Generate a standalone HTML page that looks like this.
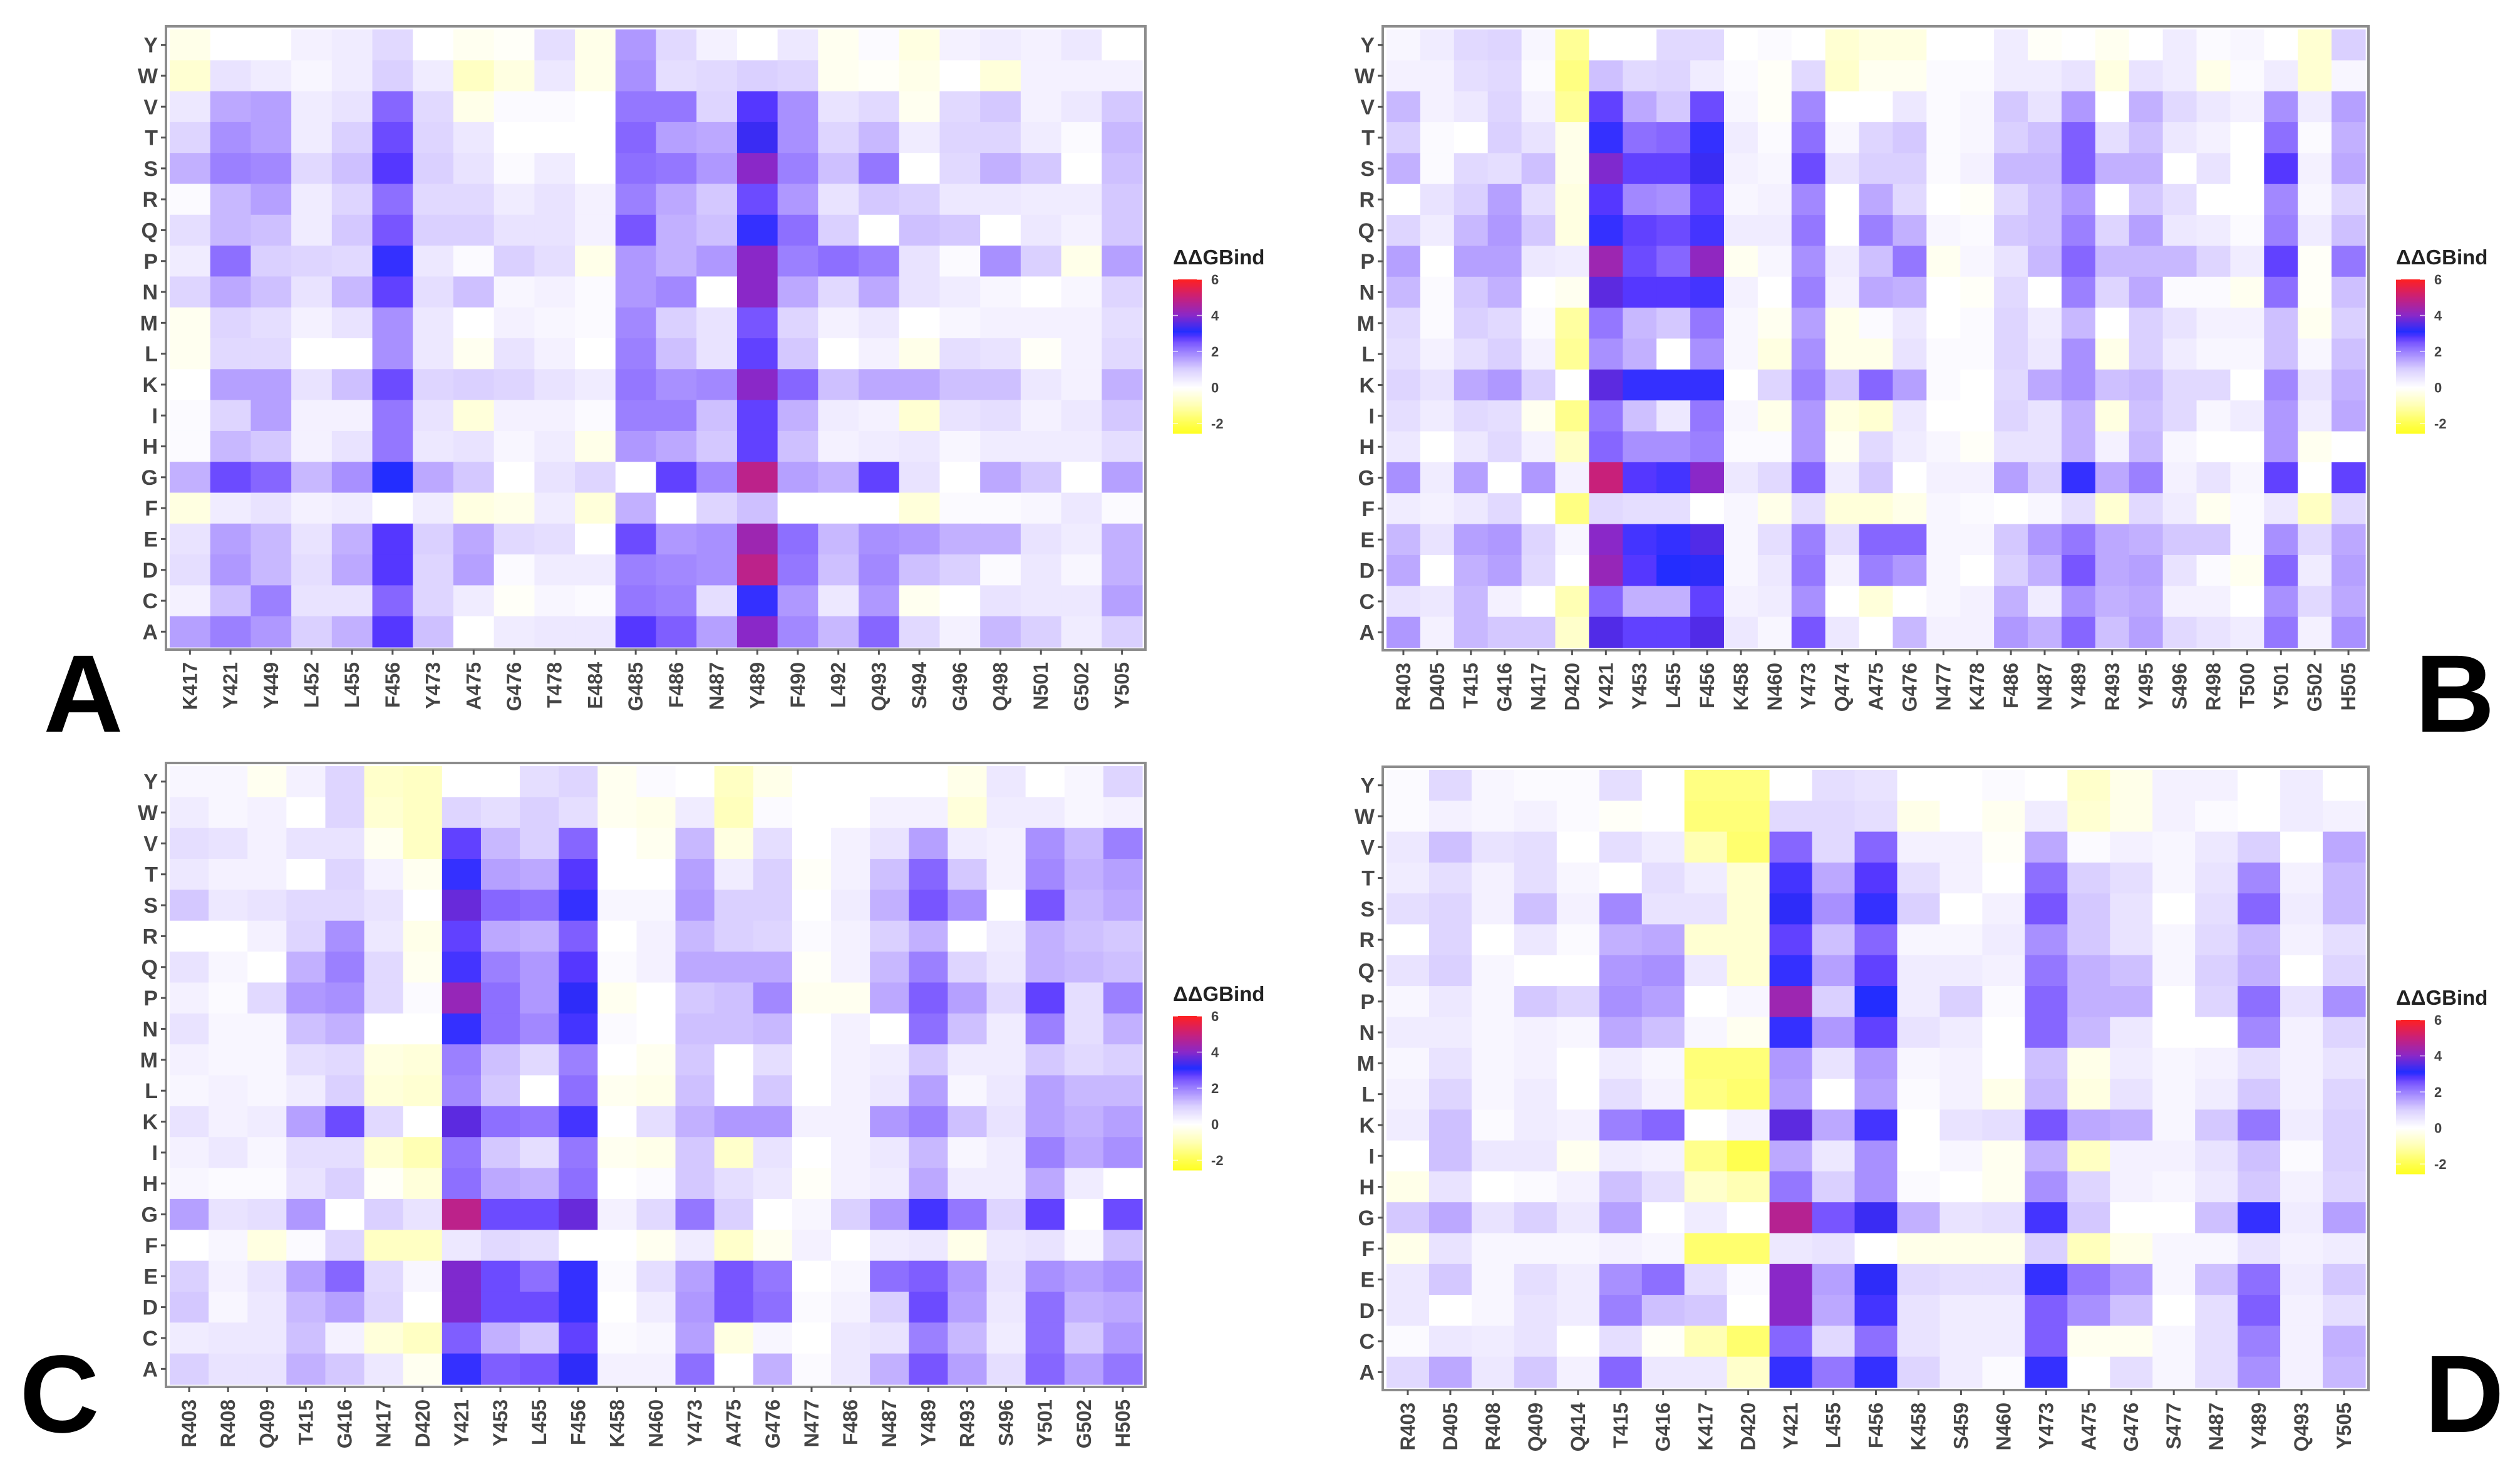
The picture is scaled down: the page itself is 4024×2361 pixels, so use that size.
<!DOCTYPE html>
<html><head><meta charset="utf-8">
<style>
html,body{margin:0;padding:0;background:#fff;}
svg{display:block;font-family:"Liberation Sans",Arial,sans-serif;}
</style></head>
<body>
<svg id="fig" xmlns="http://www.w3.org/2000/svg" width="4024" height="2361" viewBox="0 0 4024 2361">
<rect width="4024" height="2361" fill="#fff"/>
</svg>
<script>
const rowLabels = ["Y","W","V","T","S","R","Q","P","N","M","L","K","I","H","G","F","E","D","C","A"];

const colsA = ["K417","Y421","Y449","L452","L455","F456","Y473","A475","G476","T478","E484","G485","F486","N487","Y489","F490","L492","Q493","S494","G496","Q498","N501","G502","Y505"];
const valsA = [
[-0.3,0,0,0.3,0.4,0.8,0,-0.2,-0.1,0.7,-0.3,1.7,0.8,0.3,0,0.5,-0.2,0.1,-0.4,0.3,0.4,0.3,0.5,0],
[-0.6,0.6,0.4,0.2,0.4,1.0,0.4,-0.8,-0.4,0.5,-0.3,1.8,0.7,0.8,1.0,0.9,-0.2,-0.1,-0.3,0,-0.5,0.3,0.3,0.3],
[0.5,1.5,1.6,0.4,0.6,2.3,0.8,-0.3,0.1,0.1,0,2.1,2.1,0.9,2.8,1.8,0.6,0.8,-0.2,0.8,1.1,0.3,0.5,1.1],
[0.9,1.8,1.6,0.4,1.0,2.6,0.9,0.5,0,0,0,2.3,1.6,1.5,3.3,1.8,0.9,1.3,0.4,0.9,0.9,0.4,0.1,1.3],
[1.4,2.0,1.9,0.8,1.2,2.8,1.0,0.6,0.1,0.4,0,2.2,2.1,1.7,4.0,2.0,1.2,2.1,0,0.8,1.4,1.1,0,1.2],
[0.1,1.3,1.6,0.4,0.9,2.2,0.8,0.8,0.4,0.6,0.3,2.0,1.5,1.1,2.6,1.7,0.6,1.1,1.0,0.5,0.5,0.4,0.4,1.1],
[0.7,1.3,1.2,0.4,1.1,2.5,1.0,1.0,0.6,0.6,0.3,2.5,1.4,1.2,3.0,2.2,1.0,0,1.2,1.1,0,0.5,0.3,1.1],
[0.4,2.2,1.0,0.9,0.8,3.0,0.5,0.1,1.0,0.7,-0.3,1.7,1.4,1.7,4.0,2.0,2.2,2.0,0.6,0.1,1.8,1.0,-0.3,1.6],
[0.9,1.5,1.2,0.6,1.3,2.7,0.7,1.2,0.2,0.3,0.1,1.7,1.9,0,4.0,1.5,0.8,1.5,0.6,0.4,0.2,0,0.2,0.9],
[-0.2,0.9,0.7,0.3,0.6,1.8,0.5,0,0.3,0.2,0.1,1.9,1.0,0.6,2.5,0.9,0.3,0.5,0,0.2,0.3,0.3,0.3,0.7],
[-0.2,0.8,0.8,0,0,1.8,0.5,-0.2,0.6,0.3,0,2.0,1.2,0.6,2.7,1.1,0,0.3,-0.3,0.7,0.6,-0.1,0.3,0.8],
[0,1.6,1.6,0.6,1.2,2.6,0.9,1.0,0.9,0.6,0.4,2.1,1.8,1.9,4.0,2.3,1.2,1.5,1.5,1.2,1.2,0.5,0.3,1.4],
[0.1,0.9,1.6,0.3,0.3,2.1,0.6,-0.5,0.3,0.3,0.1,2.0,2.0,1.2,2.7,1.4,0.4,0.3,-0.6,0.6,0.7,0.3,0.5,1.1],
[0.1,1.3,1.1,0.3,0.6,2.1,0.5,0.6,0.2,0.4,-0.3,1.7,1.5,1.1,2.7,1.2,0.3,0.4,0.5,0.2,0.4,0.4,0.4,0.7],
[1.4,2.6,2.3,1.3,1.8,3.1,1.5,1.1,0,0.6,0.9,0,2.7,1.9,4.8,1.6,1.4,2.7,0.6,0,1.5,1.1,0,1.6],
[-0.4,0.4,0.6,0.3,0.4,0,0.4,-0.4,-0.3,0.4,-0.5,1.4,0,0.9,1.2,0,0,0,-0.5,0.1,0.1,0.2,0.5,0.1],
[0.6,1.6,1.3,0.6,1.4,2.8,1.0,1.5,0.8,0.7,0,2.6,1.7,1.8,4.3,2.2,1.3,1.8,1.7,1.4,1.4,0.6,0.4,1.4],
[0.7,1.7,1.3,0.7,1.5,2.8,0.9,1.6,0.1,0.4,0.4,2.0,1.9,1.8,4.8,2.1,1.2,1.9,1.2,1.0,0.1,0.5,0.2,1.4],
[0.3,1.2,2.0,0.6,0.6,2.3,0.9,0.4,-0.1,0.2,0.1,2.1,2.0,0.7,3.0,1.7,0.5,1.7,-0.2,0,0.6,0.5,0.5,1.6],
[1.6,2.0,1.7,1.0,1.4,2.8,1.2,0,0.4,0.5,0.5,2.8,2.4,1.6,4.0,1.9,1.3,2.3,0.8,0.3,1.3,1.0,0.4,1.0]
];

const colsB = ["R403","D405","T415","G416","N417","D420","Y421","Y453","L455","F456","K458","N460","Y473","Q474","A475","G476","N477","K478","F486","N487","Y489","R493","Y495","S496","R498","T500","Y501","G502","H505"];
const valsB = [
[0.2,0.4,0.8,0.9,0.2,-1.3,0,0,0.8,0.8,0,0.1,0,-0.6,-0.4,-0.4,0,0,0.4,-0.1,0,-0.2,0,0.4,0.1,0.2,0,-0.6,1.0],
[0.3,0.3,0.7,0.8,0.1,-1.5,1.2,0.8,0.9,0.4,0.1,-0.1,0.8,-0.7,-0.2,-0.2,0.1,0.1,0.4,0.4,0.6,-0.4,0.6,0.4,-0.3,0.1,0.4,-0.6,0.2],
[1.3,0.3,0.5,0.9,0.3,-1.3,2.7,1.5,1.1,2.6,0.2,-0.1,1.9,0,0,0.5,0.1,0.2,1.1,0.6,1.7,0,1.4,0.8,0.5,0.3,1.8,0.4,1.6],
[1.0,0.1,0,1.0,0.6,-0.3,3.0,2.2,2.3,3.0,0.4,0.1,2.2,0.2,0.9,1.1,0.1,0.2,1.0,1.2,2.4,0.7,1.2,0.5,0.3,0,2.2,0.1,1.4],
[1.4,0.1,0.8,0.7,1.2,-0.3,3.9,2.7,2.7,3.3,0.3,0.2,2.6,0.6,1.0,1.0,0.1,0.3,1.3,1.3,2.4,1.4,1.4,0,0.6,0,2.8,0.3,1.5],
[0,0.6,1.0,1.6,0.7,-0.4,2.8,1.9,1.8,2.7,0.2,0.3,1.9,0,1.5,0.8,0,-0.1,0.8,1.2,1.7,0,1.1,0.7,0,0,1.9,0.2,0.9],
[0.9,0.4,1.3,1.7,1.1,-0.4,3.0,2.7,2.6,2.9,0.4,0.4,2.1,0,2.0,1.4,0.2,0.1,1.1,1.2,2.0,0.9,1.6,0.5,0.4,0.1,2.0,0.4,1.2],
[1.6,0,1.6,1.6,0.5,0.4,4.3,2.6,2.3,4.1,-0.2,0.2,1.8,0.4,1.2,2.1,-0.2,0.2,0.6,1.3,2.3,1.3,1.3,1.3,0.9,0.4,2.7,-0.1,2.1],
[1.3,0.1,1.1,1.4,0,-0.2,3.6,2.8,2.8,2.9,0.3,0,2.0,0.3,1.5,1.4,0,-0.1,0.8,0,2.0,0.9,1.5,0.1,0.1,-0.2,2.2,-0.1,1.2],
[0.8,0.1,1.0,0.8,0.1,-1.2,2.1,1.3,1.1,2.1,0.2,-0.2,1.6,-0.3,0.1,0.5,0,0.1,0.9,0.4,1.3,0,1.0,0.6,0.3,0.3,1.2,-0.2,1.0],
[0.7,0.3,0.7,1.0,0.3,-1.3,1.8,1.4,0,1.8,0.2,-0.4,1.8,-0.3,-0.3,0.6,0.1,0.1,0.9,0.5,1.8,-0.3,1.0,0.4,0.2,0.2,1.2,0.2,1.2],
[0.9,0.6,1.5,1.7,1.0,0,3.6,3.0,3.0,3.0,0,0.9,2.0,1.1,2.3,1.6,0.1,0,0.8,1.5,1.8,1.2,1.3,0.8,0.8,0,1.9,0.6,1.4],
[0.7,0.4,0.8,0.7,-0.2,-1.4,2.1,1.2,0.5,2.1,0.2,-0.3,1.7,-0.4,-0.6,0.5,0,0,0.9,0.6,1.4,-0.4,1.2,0.8,0.2,0.4,1.7,0.4,1.5],
[0.5,0,0.5,0.8,0.3,-0.8,2.3,1.8,1.8,2.0,0.1,0.1,1.7,-0.2,0.8,0.4,0.2,-0.1,0.6,0.6,1.4,0.3,1.3,0.2,0,0,1.7,-0.2,0],
[1.8,0.4,1.6,0,1.7,0.3,5.0,2.8,2.9,4.0,0.5,0.8,2.3,0.4,1.1,0,0.3,0.3,1.6,1.0,3.0,1.5,2.0,0.3,0.6,0.2,2.7,0,2.7],
[0.4,0.3,0.5,0.8,0,-1.5,0.8,0.7,0.7,0,0.2,-0.3,0.7,-0.5,-0.5,-0.3,0.2,0.1,0,0.2,0.7,-0.6,0.8,0.4,-0.2,0.1,0.5,-0.8,0.8],
[1.3,0.6,1.6,1.7,0.9,0.2,4.0,2.9,3.0,3.5,0.2,0.7,2.0,0.7,2.3,2.3,0.2,0.2,1.1,1.7,2.1,1.5,1.4,1.1,1.1,0.1,1.8,0.8,1.5],
[1.5,0,1.4,1.6,0.8,0,4.2,2.8,3.1,3.2,0.2,0.5,2.1,0.3,2.0,1.7,0.2,0,1.0,1.4,2.5,1.5,1.6,0.6,0.1,-0.2,2.3,0.4,1.6],
[0.6,0.5,1.3,0.3,0,-1.0,2.3,1.4,1.4,2.7,0.3,0.4,1.8,0,-0.5,0,0.2,0.3,1.4,0.4,1.8,1.4,1.5,0.3,0.3,0,1.8,0.8,1.5],
[1.7,0.3,1.3,1.1,1.1,-0.7,3.5,2.7,2.7,3.5,0.5,0.2,2.5,0.5,0,1.3,0.3,0.3,1.7,1.4,2.3,1.2,1.6,0.8,0.6,0.4,2.1,0.3,1.8]
];

const colsC = ["R403","R408","Q409","T415","G416","N417","D420","Y421","Y453","L455","F456","K458","N460","Y473","A475","G476","N477","F486","N487","Y489","R493","S496","Y501","G502","H505"];
const valsC = [
[0.2,0.2,-0.2,0.3,0.9,-0.7,-0.8,0,0,0.7,0.9,-0.2,0.1,0,-0.8,-0.3,0,0,0,0,-0.3,0.5,0,0.2,0.9],
[0.4,0.2,0.3,0,0.9,-0.6,-0.8,0.9,0.7,1.0,0.7,-0.2,-0.3,0.4,-0.9,0.1,0,0,0.3,0.3,-0.5,0.4,0.4,0.2,0.3],
[0.7,0.6,0.3,0.6,0.6,-0.2,-0.8,2.7,1.3,1.0,2.3,0,-0.2,1.3,-0.4,0.7,0,0.3,0.6,1.6,0.4,0.3,1.8,1.3,2.0],
[0.5,0.3,0.3,0,0.9,0.3,-0.2,3.0,1.6,1.5,2.8,0,0,1.6,0.4,1.0,-0.1,0.3,1.2,2.3,1.1,0.3,1.9,1.4,1.6],
[1.1,0.5,0.6,0.8,0.8,0.6,0,3.7,2.3,2.2,3.0,0.2,0.2,1.7,1.0,1.0,0,0.4,1.4,2.5,1.8,0,2.5,1.3,1.5],
[0,0,0.3,0.9,1.8,0.5,-0.3,2.7,1.5,1.4,2.4,0,0.3,1.3,1.0,0.9,0.1,0.3,1.0,1.4,0,0.4,1.4,1.2,1.1],
[0.6,0.2,0,1.4,2.0,0.8,-0.2,2.9,2.0,1.7,2.8,0.1,0.3,1.5,1.5,1.5,-0.1,0.3,1.3,2.0,0.9,0.5,1.4,1.3,1.2],
[0.3,0.1,0.8,1.7,1.8,0.8,0.1,4.2,2.2,1.7,3.2,-0.2,0,1.1,1.2,1.9,-0.2,-0.2,1.5,2.4,1.6,0.8,2.7,0.7,2.0],
[0.6,0.2,0.2,1.2,1.4,0,0,3.0,2.2,1.9,2.9,0.1,0,1.2,1.2,1.3,0,0.3,0,2.2,1.2,0.4,2.0,0.7,1.4],
[0.3,0.2,0.2,0.7,0.8,-0.4,-0.5,2.0,1.2,0.8,2.0,0,-0.2,1.1,0,0.7,0,0.3,0.4,1.1,0.4,0.4,1.1,0.8,1.0],
[0.2,0.3,0.2,0.4,1.0,-0.5,-0.6,1.9,1.1,0,2.2,-0.2,-0.3,1.2,0,1.1,0,0.3,0.5,1.6,0.2,0.5,1.6,1.3,1.3],
[0.6,0.3,0.4,1.6,2.6,0.8,0,3.6,2.2,2.1,2.9,0,0.7,1.4,1.7,1.7,0.3,0.3,1.7,2.0,1.2,0.6,1.6,1.4,1.6],
[0.3,0.5,0.2,0.7,0.7,-0.6,-1.0,2.1,1.1,0.7,2.1,-0.2,-0.3,1.1,-0.7,0.6,0,0.3,0.5,1.3,0.2,0.4,2.0,1.5,1.8],
[0.2,0.1,0.1,0.6,1.0,-0.1,-0.5,2.2,1.5,1.4,2.2,0,0.1,1.1,0.7,0.5,-0.1,0.3,0.4,1.5,0.4,0.4,1.5,0.4,0],
[1.6,0.6,0.7,1.7,0,1.0,0.6,4.8,2.6,2.6,3.7,0.3,0.8,2.1,1.0,0,0.2,1.0,1.7,2.9,2.1,0.9,2.7,0,2.6],
[0,0.2,-0.4,0.1,0.9,-0.8,-0.8,0.5,0.8,0.7,0,0,-0.2,0.4,-0.7,-0.2,0.3,0,0.4,0.5,-0.3,0.5,0.6,0.2,1.2],
[1.0,0.3,0.6,1.6,2.3,0.8,0.2,3.9,2.6,2.2,3.0,0.1,0.7,1.6,2.5,2.1,0,0.2,2.2,2.4,1.7,0.6,1.8,1.6,1.8],
[1.1,0.2,0.5,1.3,1.6,0.9,0,3.9,2.6,2.6,3.0,0,0.4,1.7,2.5,2.2,0.1,0.3,1.0,2.6,1.6,0.5,2.2,1.4,1.5],
[0.4,0.5,0.5,1.2,0.3,-0.5,-0.8,2.4,1.4,1.1,2.7,0.1,0.2,1.6,-0.4,0.2,0,0.5,0.6,2.0,1.3,0.4,2.2,1.1,1.7],
[1.0,0.6,0.6,1.4,1.1,0.5,-0.2,3.0,2.4,2.5,3.2,0.3,0.3,2.2,0,1.4,0.1,0.5,1.4,2.5,1.6,0.7,2.3,1.6,2.1]
];

const colsD = ["R403","D405","R408","Q409","Q414","T415","G416","K417","D420","Y421","L455","F456","K458","S459","N460","Y473","A475","G476","S477","N487","Y489","Q493","Y505"];
const valsD = [
[0.1,0.8,0.2,0.1,0.1,0.7,0,-1.5,-1.5,0,0.7,0.6,0,0,0.1,0,-0.7,-0.3,0.3,0.3,0,0.4,0],
[0.1,0.3,0.2,0.3,0.1,-0.1,0,-1.6,-1.6,0.8,0.8,0.7,-0.3,0,-0.2,0.4,-0.6,-0.3,0.3,0.1,0,0.4,0.3],
[0.5,1.2,0.6,0.7,0,0.7,0.4,-1.0,-1.7,2.3,0.8,2.3,0.3,0.3,-0.1,1.5,0.1,0.3,0.2,0.5,1.0,0,1.5],
[0.4,0.7,0.3,0.7,0.2,0,0.7,0.4,-0.6,2.9,1.5,2.8,0.7,0.3,0,2.2,1.0,0.7,0.2,0.6,1.9,0.3,1.3],
[0.7,0.9,0.3,1.2,0.3,1.9,0.6,0.6,-0.6,3.2,1.8,3.0,1.0,0,0.3,2.5,1.1,0.6,0,0.7,2.3,0.4,1.3],
[0,0.9,0,0.5,0.1,1.4,1.5,-0.6,-0.6,2.7,1.2,2.3,0.2,0.2,0.4,1.8,1.1,0.6,0.2,0.8,1.3,0.3,0.7],
[0.6,1.0,0.2,0,0,1.7,1.8,0.5,-0.6,3.0,1.6,2.7,0.4,0.4,0.3,2.1,1.4,1.2,0.2,1.0,1.4,0,0.9],
[0.2,0.5,0.2,1.1,0.9,1.8,1.6,0,0.2,4.3,1.0,3.1,0.4,1.0,0.1,2.3,1.4,1.4,0,0.9,2.2,0.6,1.8],
[0.4,0.4,0.2,0.3,0.2,1.5,1.2,0.2,-0.2,3.0,1.7,2.7,0.6,0.4,0,2.3,1.3,0.5,0,0,1.9,0.3,0.9],
[0.2,0.6,0.2,0.3,0,0.4,0.2,-1.6,-1.6,1.7,0.6,1.7,0.2,0.3,0,1.2,-0.3,0.4,0.2,0.3,0.7,0.3,0.6],
[0.3,0.9,0.2,0.4,0,0.7,0.3,-1.5,-1.7,1.6,0,1.6,0.1,0.3,-0.3,1.3,-0.4,0.6,0.2,0.4,1.1,0.3,0.9],
[0.4,1.2,0.1,0.4,0.3,2.0,2.3,0,0.3,3.6,1.5,2.9,0,0.6,0.7,2.5,1.5,1.4,0.2,1.1,2.1,0.4,1.0],
[0,1.2,0.5,0.5,-0.2,0.4,0.3,-1.4,-2.0,1.5,0.5,1.8,0,0.2,-0.2,1.4,-0.8,0.3,0.3,0.6,1.2,0.1,1.0],
[-0.3,0.6,0,0.1,0.3,1.2,0.7,-0.7,-1.0,2.1,1.0,1.8,0.1,0,-0.2,1.8,0.9,0.3,0.2,0.5,1.1,0.3,0.9],
[1.1,1.5,0.6,1.0,0.5,1.6,0,0.4,0,4.7,2.5,3.3,1.4,0.6,0.7,2.9,1.1,0,0,1.2,3.0,0.4,1.6],
[-0.3,0.6,0.2,0.2,0.2,0.3,0.2,-1.7,-1.7,0.5,0.6,0,-0.3,-0.3,-0.3,1.0,-0.9,-0.3,0.2,0.2,0.6,0.3,0.4],
[0.5,1.1,0.2,0.7,0.4,1.8,2.2,0.7,0.1,4.0,1.6,3.2,0.8,0.7,0.7,3.0,2.1,1.7,0.2,1.2,2.2,0.4,1.1],
[0.5,0,0.2,0.6,0.4,2.0,1.2,1.1,0,4.0,1.5,2.9,0.6,0.4,0.4,2.4,1.8,1.2,0,0.7,2.4,0.3,0.7],
[0.1,0.5,0.4,0.6,0,0.7,-0.1,-1.0,-1.7,2.3,0.8,2.2,0.6,0.4,0.4,2.4,-0.2,-0.2,0.2,0.7,2.0,0.3,1.4],
[0.8,1.5,0.5,1.1,0.3,2.3,0.5,0.5,-0.7,3.0,2.1,3.0,0.9,0.4,0.1,3.0,0,0.7,0.2,0.7,1.8,0.3,1.3]
];

const legendTicks = [6,4,2,0,-2];

const NS = "http://www.w3.org/2000/svg";
const svg = document.getElementById("fig");

const stops = [[-2.6,[255,255,30]],[-2,[255,255,80]],[-1,[255,255,180]],[0,[255,255,255]],[1,[218,208,255]],[1.5,[188,168,255]],[2,[155,128,255]],[2.5,[120,85,255]],[2.8,[85,55,255]],[3.1,[35,45,255]],[4,[138,40,200]],[5,[200,32,122]],[6,[255,32,32]]];
function color(v){
  if(v<=stops[0][0]) return "rgb("+stops[0][1].join(",")+")";
  for(let i=1;i<stops.length;i++){
    if(v<=stops[i][0]){
      const a=stops[i-1],b=stops[i],t=(v-a[0])/(b[0]-a[0]);
      const c=a[1].map((x,k)=>Math.round(x+(b[1][k]-x)*t));
      return "rgb("+c.join(",")+")";
    }
  }
  return "rgb(255,32,32)";
}
function el(tag,attrs,parent){const e=document.createElementNS(NS,tag);for(const k in attrs)e.setAttribute(k,attrs[k]);(parent||svg).appendChild(e);return e;}

function panel(id,cols,vals,bx0,by0,bx1,by1,letter,lx,ly){
  const g=el("g",{});
  
  
  const tx0=bx0+6,tx1=bx1-5,ty0=by0+5,ty1=by1-4;
  const cw=(tx1-tx0)/cols.length,rh=(ty1-ty0)/rowLabels.length;
  const xPos=i=>tx0+i*cw, yPos=j=>ty0+j*rh;
  for(let j=0;j<rowLabels.length;j++){
    for(let i=0;i<cols.length;i++){
      const r=el("rect",{x:xPos(i).toFixed(2),y:yPos(j).toFixed(2),width:(cw+0.6).toFixed(2),height:(rh+0.6).toFixed(2),fill:color(vals[j][i])},g);
      
      
    }
  }
  const b=el("rect",{x:bx0,y:by0,width:bx1-bx0,height:by1-by0,fill:"none",stroke:"#8c8c8c","stroke-width":4},g);
  
  
  for(let j=0;j<rowLabels.length;j++){
    const cy=yPos(j)+rh/2;
    el("line",{x1:bx0-8,x2:bx0,y1:cy,y2:cy,stroke:"#555","stroke-width":3},g);
    const t=el("text",{x:bx0-13,y:cy+12,"text-anchor":"end","font-size":34,"font-weight":"bold",fill:"#454545"},g);
    t.textContent=rowLabels[j];
    
    
  }
  for(let i=0;i<cols.length;i++){
    const cx=xPos(i)+cw/2;
    el("line",{x1:cx,x2:cx,y1:by1,y2:by1+8,stroke:"#555","stroke-width":3},g);
    const t=el("text",{x:0,y:0,transform:"translate("+(cx+11)+","+(by1+20)+") rotate(-90)","text-anchor":"end","font-size":32,"font-weight":"bold",fill:"#454545"},g);
    t.textContent=cols[i];
    
    
  }
  const lgx=bx1+44, lgy=by0+404, lh=246, lw=46;
  const vTop=6.0, vBot=-2.55;
  const ly2v=y=>vTop-(y-lgy)/lh*(vTop-vBot);
  const lt=el("text",{x:lgx,y:lgy-24,"font-size":33,"font-weight":"bold",fill:"#222"},g);
  lt.textContent="ΔΔGBind";
  
  
  for(let k=0;k<lh;k+=2){
    el("rect",{x:lgx,y:lgy+k,width:lw,height:2.5,fill:color(ly2v(lgy+k+1))},g);
  }
  legendTicks.forEach(v=>{
    const y=lgy+(vTop-v)/(vTop-vBot)*lh;
    el("line",{x1:lgx,x2:lgx+8,y1:y,y2:y,stroke:"#fff","stroke-width":1.5,opacity:0.7},g);
    el("line",{x1:lgx+lw-8,x2:lgx+lw,y1:y,y2:y,stroke:"#fff","stroke-width":1.5,opacity:0.7},g);
    const t=el("text",{x:lgx+61,y:y+8,"font-size":22,"font-weight":"bold",fill:"#444"},g);
    t.textContent=String(v);
    
    
  });
  const L=el("text",{x:lx,y:ly,"text-anchor":"middle","font-size":176,"font-weight":"bold",fill:"#000"},g);
  L.textContent=letter;
  
  
}
panel("a",colsA,valsA,265,42,1829,1037,"A",133,1168);
panel("b",colsB,valsB,2208,42,3782,1038,"B",3920,1168);
panel("c",colsC,valsC,265,1218,1829,2214,"C",95,2286);
panel("d",colsD,valsD,2208,1224,3782,2219,"D",3935,2286);
</script>
</body></html>
